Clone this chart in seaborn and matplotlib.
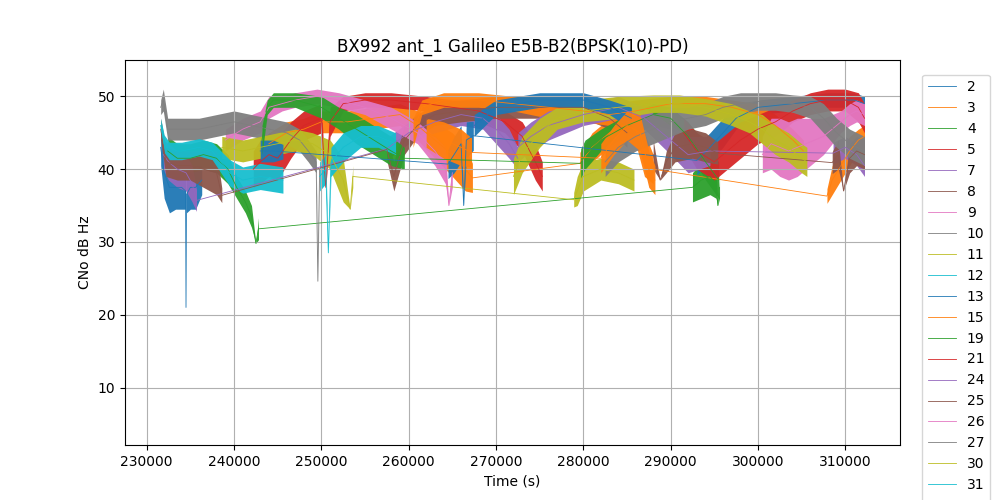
import numpy as np
import matplotlib
matplotlib.use("Agg")
import matplotlib.pyplot as plt
import seaborn as sns
import pandas as pd

# Satellite PRNs (legend order)
prns = [2, 3, 4, 5, 7, 8, 9, 10, 11, 12, 13, 15, 19, 21, 24, 25, 26, 27, 30, 31, 33, 34]

# time in ks, CNo in dB-Hz, w = half spread of the noisy band (dB)
sv02_t = [231.6, 232.0, 232.6, 233.3, 234.0, 234.45, 234.5, 234.55, 235.0, 235.6, 236.3]
sv02_v = [43.0, 39.5, 37.5, 37.5, 37.5, 37.0, 21.0, 36.5, 37.5, 37.5, 38.5]
sv02_w = [2.5, 3.5, 3.5, 3.0, 3.0, 2.5, 0.0, 2.5, 3.0, 3.0, 2.0]

sv03_t = [244.0, 246.0, 248.0, 250.0, 253.0, 256.0, 259.0, 261.0, 263.0, 265.0, 266.5, 267.3,
          279.6, 281.0, 283.0, 284.5, 286.0, 287.0, 288.0,
          307.9, 308.5, 309.5, 310.5, 311.5, 312.2]
sv03_v = [43.5, 45.0, 45.5, 46.5, 46.5, 47.0, 47.5, 46.0, 44.0, 42.0, 40.0, 38.8,
          40.8, 43.0, 45.0, 46.0, 45.5, 42.0, 40.0,
          36.3, 38.5, 40.5, 42.5, 44.0, 44.5]
sv03_w = [1.5, 1.5, 1.5, 1.5, 1.5, 1.5, 1.5, 2.0, 2.5, 3.0, 3.0, 2.0,
          1.5, 2.0, 2.0, 1.5, 2.0, 3.0, 2.0,
          1.0, 2.0, 2.0, 2.0, 1.5, 1.5]

sv04_t = [232.4, 233.5, 235.0, 236.5, 238.0, 239.3, 240.3, 241.3, 242.0, 242.5, 242.8,
          292.5, 293.5, 294.5, 295.2, 295.4, 295.6]
sv04_v = [42.5, 41.5, 41.5, 42.0, 41.5, 40.0, 37.5, 35.5, 33.5, 29.8, 31.8,
          37.5, 38.5, 39.0, 38.0, 35.0, 37.5]
sv04_w = [2.0, 2.0, 2.0, 2.0, 2.0, 2.0, 1.5, 1.5, 1.5, 0.0, 1.5,
          2.0, 2.5, 2.5, 2.0, 0.0, 1.5]

sv05_t = [242.2, 243.0, 244.0, 245.0, 246.5, 248.0, 250.0, 250.5, 251.0, 252.5, 255.0, 258.0,
          262.0, 265.0, 268.0, 271.0, 273.0, 274.5, 275.3]
sv05_v = [40.0, 41.0, 42.0, 41.5, 44.0, 46.0, 47.0, 37.5, 46.5, 49.0, 49.5, 49.5,
          49.0, 48.5, 48.0, 46.5, 44.5, 41.0, 39.0]
sv05_w = [2.5, 3.0, 3.0, 3.0, 2.5, 2.0, 2.0, 0.0, 2.0, 1.0, 1.0, 1.0,
          1.0, 1.0, 1.5, 1.5, 2.0, 2.5, 2.0]

sv07_t = [231.9, 232.5, 233.5, 234.5, 235.2, 235.7,
          257.5, 260.0, 263.0, 266.0, 268.5, 270.0, 271.5, 272.5]
sv07_v = [42.0, 41.0, 40.0, 39.5, 38.0, 35.7,
          42.8, 45.0, 46.5, 47.5, 47.0, 45.5, 43.5, 41.5]
sv07_w = [2.0, 2.5, 2.5, 2.5, 2.5, 1.5,
          1.5, 1.5, 1.5, 1.5, 1.5, 2.0, 2.0, 1.5]

sv08_t = [231.6, 232.2, 233.5, 235.0, 236.5, 238.0, 238.6,
          257.5, 258.3, 259.5, 261.0, 263.0, 266.0, 270.0, 275.0, 280.0, 283.0, 285.0]
sv08_v = [45.5, 41.0, 40.5, 40.5, 40.0, 39.5, 36.4,
          42.7, 39.0, 44.0, 46.0, 47.5, 48.0, 48.5, 48.5, 48.5, 47.0, 45.0]
sv08_w = [1.5, 2.0, 2.0, 2.0, 2.5, 3.0, 1.0,
          1.5, 2.0, 2.0, 1.5, 1.5, 1.5, 1.5, 1.5, 1.5, 1.5, 2.0]

sv09_t = [239.0, 241.0, 243.0, 244.0, 245.5, 247.0, 249.5, 252.0, 255.0, 258.0, 261.0, 263.0,
          264.2, 264.6, 265.0]
sv09_v = [44.0, 45.5, 46.5, 48.5, 49.0, 49.5, 50.0, 49.5, 48.5, 47.0, 45.0, 42.5,
          40.5, 35.0, 39.5]
sv09_w = [1.5, 1.5, 1.5, 1.5, 1.0, 1.0, 1.0, 1.0, 1.0, 1.5, 1.5, 2.0,
          2.5, 0.0, 2.0]

sv10_t = [231.6, 231.9, 232.4, 234.0, 236.0, 238.0, 240.0, 242.0, 244.0, 246.0, 247.5, 248.5,
          249.4, 249.6, 249.8]
sv10_v = [48.5, 49.5, 45.5, 45.5, 45.5, 46.0, 46.5, 46.0, 45.5, 45.0, 44.0, 42.5,
          41.0, 24.6, 40.0]
sv10_w = [1.0, 1.5, 1.5, 1.5, 1.5, 1.5, 1.5, 1.5, 1.5, 1.5, 1.5, 1.5,
          1.5, 0.0, 1.0]

sv11_t = [238.6, 241.0, 243.0, 245.0, 247.0, 249.0, 251.0, 252.5, 253.3, 253.6,
          278.9, 279.3, 280.0, 282.0, 284.0, 285.8]
sv11_v = [43.0, 42.5, 43.0, 43.5, 44.0, 43.5, 42.0, 38.5, 34.5, 39.0,
          35.8, 37.0, 39.0, 40.0, 39.5, 38.5]
sv11_w = [1.5, 1.5, 1.5, 1.5, 1.5, 1.5, 2.0, 3.0, 0.0, 1.5,
          1.0, 2.0, 2.0, 1.5, 1.5, 1.5]

sv12_t = [231.6, 232.0, 232.6, 234.0, 236.0, 237.5, 238.5, 239.5, 241.0, 243.0, 245.6]
sv12_v = [46.0, 43.5, 42.5, 42.5, 43.0, 42.5, 41.0, 39.5, 38.5, 39.0, 38.5]
sv12_w = [1.0, 1.2, 1.2, 1.2, 1.2, 1.2, 1.5, 1.8, 1.8, 1.8, 1.8]

sv13_t = [243.0, 244.5, 245.6,
          264.5, 265.2, 266.0, 266.3, 266.6, 267.4,
          293.0, 294.5, 296.0, 297.5, 300.0, 304.0, 308.0, 311.0, 312.2]
sv13_v = [42.5, 42.5, 42.4,
          40.7, 42.0, 43.5, 35.0, 44.0, 44.6,
          41.2, 43.0, 45.0, 47.0, 48.5, 49.0, 49.5, 49.5, 49.0]
sv13_w = [1.5, 1.5, 1.0,
          2.0, 2.5, 2.5, 0.0, 2.5, 2.0,
          2.0, 2.0, 2.0, 1.5, 1.0, 1.0, 1.0, 1.0, 1.0]

sv15_t = [260.5, 261.5, 264.0, 268.0, 272.0, 276.0, 280.0, 283.0, 286.0, 290.0, 294.0, 297.0,
          300.0, 302.0, 304.0, 305.2]
sv15_v = [45.0, 48.5, 49.5, 49.5, 49.0, 48.5, 48.0, 47.5, 48.0, 49.0, 49.0, 48.5,
          47.5, 46.0, 44.0, 42.5]
sv15_w = [2.0, 1.0, 1.0, 1.0, 1.0, 1.5, 1.5, 1.5, 1.5, 1.0, 1.0, 1.0,
          1.5, 1.5, 1.5, 1.5]

sv19_t = [243.2, 243.8, 244.5, 247.0, 250.0, 252.0, 254.0, 256.0, 258.0, 259.5,
          279.7, 280.2, 282.0, 285.0, 288.0, 290.0, 292.0, 294.0, 295.5]
sv19_v = [44.0, 48.5, 49.5, 49.5, 48.5, 47.0, 45.5, 44.0, 42.5, 41.5,
          40.8, 42.0, 44.0, 46.0, 47.5, 47.0, 44.5, 41.0, 38.5]
sv19_w = [2.0, 1.0, 1.0, 1.0, 1.5, 1.5, 2.0, 2.0, 2.0, 1.5,
          2.0, 2.0, 1.5, 1.5, 1.5, 1.5, 2.0, 2.5, 2.5]

sv21_t = [291.5, 293.0, 295.0, 296.5, 298.0, 300.0, 302.0, 304.0, 306.0, 308.0, 310.0, 311.5, 312.2]
sv21_v = [45.0, 42.5, 41.0, 42.5, 44.0, 45.5, 46.5, 48.0, 49.0, 49.5, 49.5, 48.5, 47.0]
sv21_w = [2.0, 2.5, 2.5, 2.5, 2.5, 2.0, 2.0, 1.5, 1.5, 1.5, 1.5, 2.0, 2.0]

sv24_t = [272.5, 274.0, 276.0, 280.0, 284.0, 287.0, 290.0, 292.0, 294.5,
          308.6, 310.0, 311.3, 312.2]
sv24_v = [43.0, 44.5, 46.0, 47.5, 48.5, 47.0, 44.0, 42.0, 42.5,
          42.2, 43.0, 42.0, 40.5]
sv24_w = [2.0, 2.0, 2.0, 1.5, 1.5, 1.5, 2.0, 2.5, 2.0,
          1.5, 1.5, 1.5, 1.5]

sv25_t = [288.0, 288.8, 289.5, 290.5, 292.5, 294.0, 295.4,
          308.5, 309.2, 309.8, 310.5, 311.3, 312.2]
sv25_v = [42.0, 38.5, 41.0, 43.0, 43.5, 43.0, 42.2,
          40.9, 42.0, 37.0, 41.5, 42.5, 42.0]
sv25_w = [2.0, 0.0, 1.5, 2.0, 2.0, 2.0, 1.5,
          1.5, 2.0, 0.0, 2.0, 2.0, 2.0]

sv26_t = [300.5, 301.5, 302.5, 303.5, 304.5, 305.5, 306.5, 307.5, 308.5, 309.5, 310.5, 311.3, 312.2]
sv26_v = [42.0, 43.5, 43.0, 42.5, 43.0, 43.5, 44.0, 44.5, 45.5, 46.5, 47.5, 48.0, 47.5]
sv26_w = [2.5, 3.5, 4.0, 4.0, 4.0, 3.5, 3.0, 2.5, 2.0, 1.5, 1.5, 1.5, 1.5]

sv27_t = [282.5, 284.0, 286.0, 288.0, 290.0, 292.0, 294.0, 296.0, 298.0, 300.0, 302.0, 304.0,
          306.0, 307.5, 309.0, 310.5, 312.2]
sv27_v = [41.0, 43.0, 44.5, 45.5, 46.5, 47.0, 47.5, 48.5, 49.0, 49.3, 49.3, 49.0,
          48.5, 47.0, 45.0, 43.5, 42.5]
sv27_w = [2.0, 2.0, 2.0, 2.0, 2.0, 1.5, 1.5, 1.5, 1.5, 1.2, 1.2, 1.2,
          1.5, 2.0, 2.0, 2.0, 2.0]

sv30_t = [272.0, 273.0, 275.0, 277.0, 280.0, 284.0, 288.0, 291.0, 294.0, 297.0, 299.0, 300.5,
          302.0, 303.5, 305.0, 305.6]
sv30_v = [39.0, 42.0, 45.0, 47.0, 48.0, 48.5, 49.0, 49.0, 48.5, 47.5, 46.5, 45.5,
          44.0, 43.0, 41.5, 41.0]
sv30_w = [2.5, 2.5, 2.0, 1.5, 1.5, 1.5, 1.2, 1.2, 1.2, 1.5, 1.5, 2.0,
          2.0, 2.0, 2.0, 2.0]

sv31_t = [249.8, 250.5, 250.8, 251.1, 252.5, 254.5, 256.5, 258.5]
sv31_v = [39.0, 40.0, 28.5, 41.0, 43.0, 44.5, 44.5, 43.5]
sv31_w = [2.0, 2.0, 0.0, 2.0, 2.0, 1.5, 1.5, 1.5]

sv33_t = [267.5, 270.0, 275.0, 280.0, 283.0, 285.5]
sv33_v = [46.0, 48.5, 49.5, 49.5, 48.5, 47.0]
sv33_w = [1.5, 1.0, 1.0, 1.0, 1.0, 1.5]

sv34_t = [262.0, 264.0, 266.0, 267.2,
          282.0, 283.5, 285.0, 286.5, 287.5, 288.2]
sv34_v = [45.0, 44.0, 43.0, 42.3,
          41.5, 44.0, 46.0, 45.0, 40.0, 38.5]
sv34_w = [2.0, 2.5, 2.5, 2.0,
          2.0, 2.0, 2.0, 2.5, 2.5, 2.0]

series = {
    2: (sv02_t, sv02_v, sv02_w), 3: (sv03_t, sv03_v, sv03_w), 4: (sv04_t, sv04_v, sv04_w),
    5: (sv05_t, sv05_v, sv05_w), 7: (sv07_t, sv07_v, sv07_w), 8: (sv08_t, sv08_v, sv08_w),
    9: (sv09_t, sv09_v, sv09_w), 10: (sv10_t, sv10_v, sv10_w), 11: (sv11_t, sv11_v, sv11_w),
    12: (sv12_t, sv12_v, sv12_w), 13: (sv13_t, sv13_v, sv13_w), 15: (sv15_t, sv15_v, sv15_w),
    19: (sv19_t, sv19_v, sv19_w), 21: (sv21_t, sv21_v, sv21_w), 24: (sv24_t, sv24_v, sv24_w),
    25: (sv25_t, sv25_v, sv25_w), 26: (sv26_t, sv26_v, sv26_w), 27: (sv27_t, sv27_v, sv27_w),
    30: (sv30_t, sv30_v, sv30_w), 31: (sv31_t, sv31_v, sv31_w), 33: (sv33_t, sv33_v, sv33_w),
    34: (sv34_t, sv34_v, sv34_w),
}

palette = sns.color_palette("tab10", 10)
fig, ax = plt.subplots(figsize=(10, 5), dpi=100)

for i, prn in enumerate(prns):
    t, v, w = series[prn]
    t = np.asarray(t) * 1000.0
    v = np.asarray(v)
    w = np.asarray(w)
    color = palette[i % 10]
    breaks = np.where(np.diff(t) > 6000)[0] + 1
    for idx in np.split(np.arange(len(t)), breaks):
        ax.fill_between(t[idx], v[idx] - w[idx], v[idx] + w[idx], color=color,
                        lw=0, alpha=0.95)
    df = pd.DataFrame({"t": t, "v": v})
    sns.lineplot(data=df, x="t", y="v", ax=ax, color=color, lw=0.6,
                 label=str(prn), sort=False, estimator=None)

ax.set_xlim(227514, 316266)
ax.set_ylim(2.1, 55)
ax.ticklabel_format(axis="x", style="plain", useOffset=False)
ax.grid(True)
ax.set_title("BX992 ant_1 Galileo E5B-B2(BPSK(10)-PD)")
ax.set_xlabel("Time (s)")
ax.set_ylabel("CNo dB Hz")
ax.legend(loc="upper left", bbox_to_anchor=(1.02, 0.98))
fig.savefig("out.png", dpi=100)
